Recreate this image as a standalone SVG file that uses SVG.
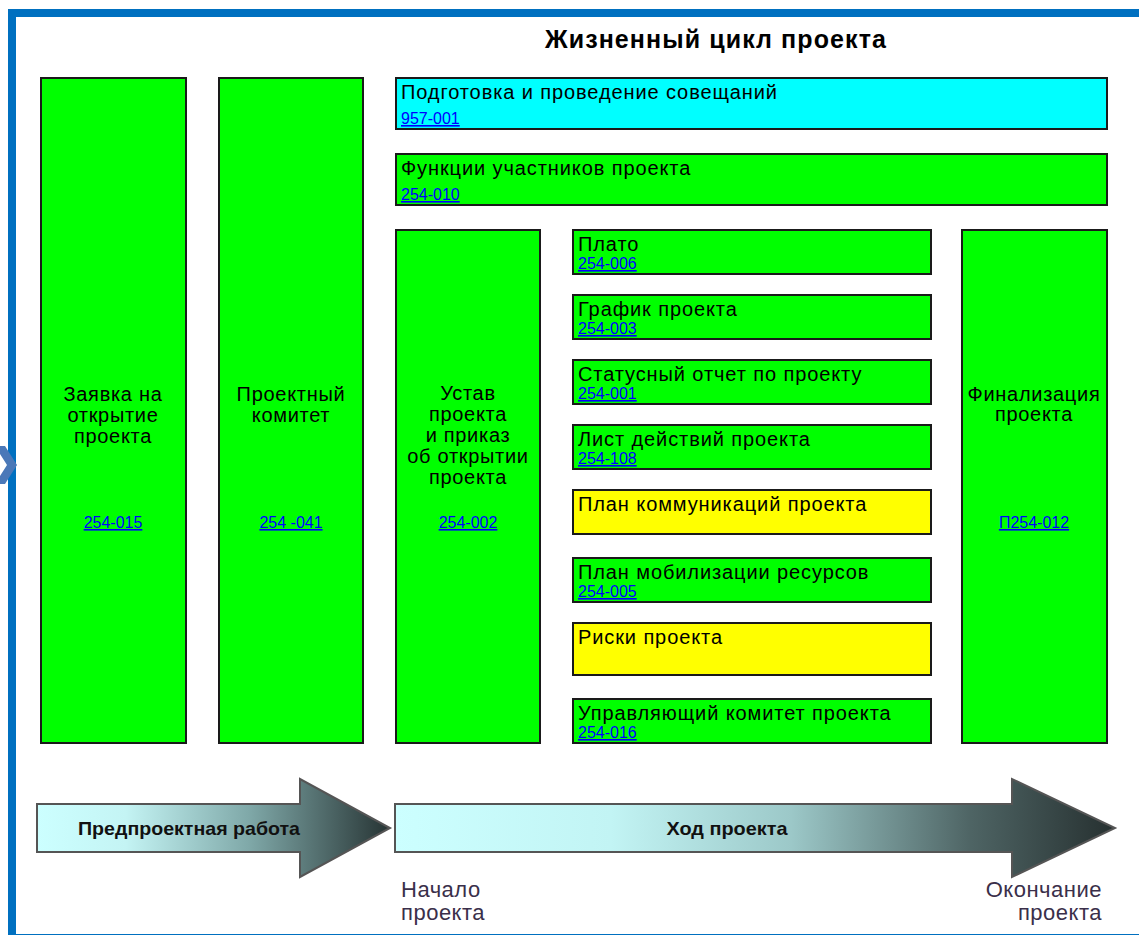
<svg xmlns="http://www.w3.org/2000/svg" width="1139" height="935" viewBox="0 0 1139 935">
<style>
.box{stroke:#1a1a1a;stroke-width:2}
.g{fill:#00FF00}
.c{fill:#00FFFF}
.y{fill:#FFFF00}
.t{font-family:"Liberation Sans",Arial,sans-serif;font-size:20px;letter-spacing:0.9px;fill:#000}
.tc{font-family:"Liberation Sans",Arial,sans-serif;font-size:20px;letter-spacing:0.7px;fill:#000;text-anchor:middle}
.lk{font-family:"Liberation Sans",Arial,sans-serif;font-size:16px;fill:#0000FF;text-decoration:underline}
.lkc{font-family:"Liberation Sans",Arial,sans-serif;font-size:16px;fill:#0000FF;text-decoration:underline;text-anchor:middle}
.ar{stroke:#555;stroke-width:2}
.at{font-family:"Liberation Sans",Arial,sans-serif;font-size:19px;font-weight:bold;fill:#111;text-anchor:middle}
.ms{font-family:"Liberation Sans",Arial,sans-serif;font-size:22px;letter-spacing:0.5px;fill:#3a2f4a}
</style>
<defs>
<linearGradient id="gl" x1="37" y1="0" x2="391" y2="0" gradientUnits="userSpaceOnUse">
<stop offset="0" stop-color="#CCFFFF"/>
<stop offset="0.25" stop-color="#C4F4F4"/>
<stop offset="0.6" stop-color="#7FA8A8"/>
<stop offset="1" stop-color="#263333"/>
</linearGradient>
<linearGradient id="gr" x1="395" y1="0" x2="1115" y2="0" gradientUnits="userSpaceOnUse">
<stop offset="0" stop-color="#CCFFFF"/>
<stop offset="0.3" stop-color="#C2F4F4"/>
<stop offset="0.55" stop-color="#9CC8C8"/>
<stop offset="0.8" stop-color="#4E6464"/>
<stop offset="1" stop-color="#263030"/>
</linearGradient>
</defs>
<rect width="1139" height="935" fill="#fff"/>
<rect x="12" y="13" width="1140" height="925" fill="none" stroke="#0070C0" stroke-width="8"/>
<polygon points="0,446 5,446 17,465 5,484 0,484 0,476 7,465 0,454" fill="#4A78B8"/>
<text x="716" y="48" font-family="'Liberation Sans',Arial,sans-serif" font-size="25" font-weight="bold" letter-spacing="1.1" text-anchor="middle" fill="#000">Жизненный цикл проекта</text>

<g id="n-zayavka">
<rect class="box g" x="41" y="78" width="145" height="665"/>
<text class="tc" x="113" y="401">Заявка на</text>
<text class="tc" x="113" y="422">открытие</text>
<text class="tc" x="113" y="443">проекта</text>
<text class="lkc" x="113" y="528">254-015</text>
</g>
<g id="n-komitet">
<rect class="box g" x="219" y="78" width="144" height="665"/>
<text class="tc" x="291" y="401">Проектный</text>
<text class="tc" x="291" y="422">комитет</text>
<text class="lkc" x="291" y="528">254 -041</text>
</g>
<g id="n-soveshaniya">
<rect class="box c" x="396" y="78" width="711" height="51"/>
<text class="t" x="401" y="99">Подготовка и проведение совещаний</text>
<text class="lk" x="401" y="124">957-001</text>
</g>
<g id="n-funkcii">
<rect class="box g" x="396" y="154" width="711" height="51"/>
<text class="t" x="401" y="175">Функции участников проекта</text>
<text class="lk" x="401" y="200">254-010</text>
</g>
<g id="n-ustav">
<rect class="box g" x="396" y="230" width="144" height="513"/>
<text class="tc" x="468" y="400">Устав</text>
<text class="tc" x="468" y="421">проекта</text>
<text class="tc" x="468" y="442">и приказ</text>
<text class="tc" x="468" y="463">об открытии</text>
<text class="tc" x="468" y="484">проекта</text>
<text class="lkc" x="468" y="528">254-002</text>
</g>
<g id="n-plato">
<rect class="box g" x="573" y="230" width="358" height="44"/>
<text class="t" x="578" y="251">Плато</text>
<text class="lk" x="578" y="269">254-006</text>
</g>
<g id="n-grafik">
<rect class="box g" x="573" y="295" width="358" height="44"/>
<text class="t" x="578" y="316">График проекта</text>
<text class="lk" x="578" y="334">254-003</text>
</g>
<g id="n-status">
<rect class="box g" x="573" y="360" width="358" height="44"/>
<text class="t" x="578" y="381">Статусный отчет по проекту</text>
<text class="lk" x="578" y="399">254-001</text>
</g>
<g id="n-list">
<rect class="box g" x="573" y="425" width="358" height="44"/>
<text class="t" x="578" y="446">Лист действий проекта</text>
<text class="lk" x="578" y="464">254-108</text>
</g>
<g id="n-kommunikacii">
<rect class="box y" x="573" y="490" width="358" height="44"/>
<text class="t" x="578" y="511">План коммуникаций проекта</text>
</g>
<g id="n-mobilizaciya">
<rect class="box g" x="573" y="558" width="358" height="44"/>
<text class="t" x="578" y="579">План мобилизации ресурсов</text>
<text class="lk" x="578" y="597">254-005</text>
</g>
<g id="n-riski">
<rect class="box y" x="573" y="623" width="358" height="52"/>
<text class="t" x="578" y="644">Риски проекта</text>
</g>
<g id="n-upravl">
<rect class="box g" x="573" y="699" width="358" height="44"/>
<text class="t" x="578" y="720">Управляющий комитет проекта</text>
<text class="lk" x="578" y="738">254-016</text>
</g>
<g id="n-final">
<rect class="box g" x="962" y="230" width="145" height="513"/>
<text class="tc" x="1034" y="401">Финализация</text>
<text class="tc" x="1034" y="421">проекта</text>
<text class="lkc" x="1034" y="528">П254-012</text>
</g>

<g id="connectors">
<g id="arrow-pre">
<polygon class="ar" points="37,804 300,804 300,779 390,828 300,877 300,852 37,852" fill="url(#gl)"/>
<text class="at" x="189" y="835" textLength="222" lengthAdjust="spacingAndGlyphs">Предпроектная работа</text>
</g>
<g id="arrow-main">
<polygon class="ar" points="395,804 1012,804 1012,779 1115,828 1012,877 1012,852 395,852" fill="url(#gr)"/>
<text class="at" x="727" y="835" textLength="121" lengthAdjust="spacingAndGlyphs">Ход проекта</text>
</g>
</g>
<text class="ms" x="401" y="897">Начало</text>
<text class="ms" x="401" y="920">проекта</text>
<text class="ms" x="1102" y="897" text-anchor="end">Окончание</text>
<text class="ms" x="1102" y="920" text-anchor="end">проекта</text>
</svg>
